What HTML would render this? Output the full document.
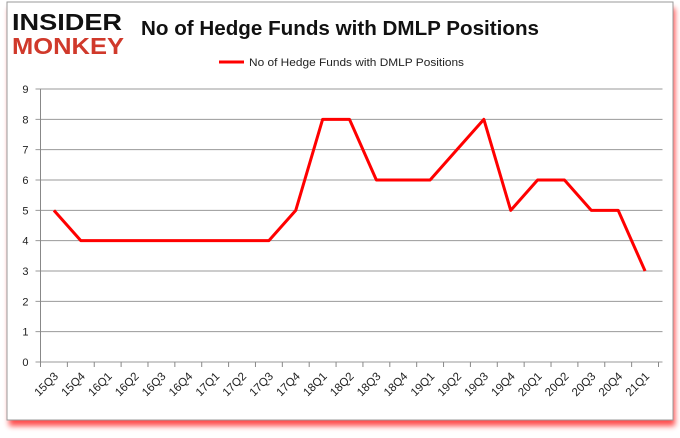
<!DOCTYPE html>
<html><head><meta charset="utf-8"><style>
body{margin:0;background:#fff;width:680px;height:433px;overflow:hidden;font-family:"Liberation Sans",sans-serif}
</style></head><body>
<svg width="680" height="433">
<defs><filter id="sh" x="-5%" y="-5%" width="110%" height="115%"><feGaussianBlur stdDeviation="3"/></filter></defs>
<rect x="9" y="8" width="666" height="418" fill="#f00" opacity="0.7" filter="url(#sh)"/>
<rect x="7" y="2" width="666" height="418" fill="#fff" stroke="#999"/>
<g font-family="Liberation Sans" font-weight="bold">
<text x="12" y="30" font-size="23" fill="#111" textLength="110" lengthAdjust="spacingAndGlyphs">INSIDER</text>
<text x="12" y="54" font-size="23" fill="#d0392b" textLength="112" lengthAdjust="spacingAndGlyphs">MONKEY</text>
</g>
<text x="340" y="35" text-anchor="middle" font-size="20" font-weight="bold" fill="#111" textLength="398" lengthAdjust="spacingAndGlyphs">No of Hedge Funds with DMLP Positions</text>
<line x1="219" y1="62" x2="244" y2="62" stroke="#f00" stroke-width="3"/>
<text x="249" y="66" font-size="11" fill="#222" textLength="215" lengthAdjust="spacingAndGlyphs">No of Hedge Funds with DMLP Positions</text>
<g id="grid"></g><g id="axes"></g><g id="series"></g>
</svg>
<script>
const categories=["15Q3","15Q4","16Q1","16Q2","16Q3","16Q4","17Q1","17Q2","17Q3","17Q4","18Q1","18Q2","18Q3","18Q4","19Q1","19Q2","19Q3","19Q4","20Q1","20Q2","20Q3","20Q4","21Q1"];
const values=[5,4,4,4,4,4,4,4,4,5,8,8,6,6,6,7,8,5,6,6,5,5,3];
const yTicks=[0,1,2,3,4,5,6,7,8,9];
const L=40.5,R=658.5,T=89,B=362,NS="http://www.w3.org/2000/svg";
const bw=(R-L)/categories.length;
const x=i=>L+bw*(i+0.5);
const y=v=>B-(v/9)*(B-T);
function mk(t,a,p){const e=document.createElementNS(NS,t);for(const k in a)e.setAttribute(k,a[k]);p.appendChild(e);return e;}
const g=document.getElementById('grid'),ax=document.getElementById('axes'),s=document.getElementById('series');
yTicks.forEach(v=>{
 const l=mk('line',{x1:L-5,x2:R+4,y1:y(v),y2:y(v),stroke:'#999','stroke-width':1},g);
 
 
 const t=mk('text',{x:L-12,y:y(v)+4,'text-anchor':'end','font-size':11,fill:'#222'},ax);
 t.textContent=v;
 
 
});
const ya=mk('line',{x1:L,x2:L,y1:T,y2:B,stroke:'#888'},ax);


categories.forEach((c,i)=>{
 const tk=mk('line',{x1:L+bw*i,x2:L+bw*i,y1:B,y2:B+5,stroke:'#888'},ax);
 
 
 const t=mk('text',{x:x(i)+5,y:B+15,'text-anchor':'end','font-size':11.5,fill:'#222',transform:`rotate(-45 ${x(i)+5} ${B+15})`},ax);
 t.textContent=c;
 
 
});
const last=mk('line',{x1:R,x2:R,y1:B,y2:B+5,stroke:'#888'},ax);


const p=mk('polyline',{points:values.map((v,i)=>x(i)+','+y(v)).join(' '),fill:'none',stroke:'#f00','stroke-width':3,'stroke-linejoin':'round'},s);


</script>
</body></html>
